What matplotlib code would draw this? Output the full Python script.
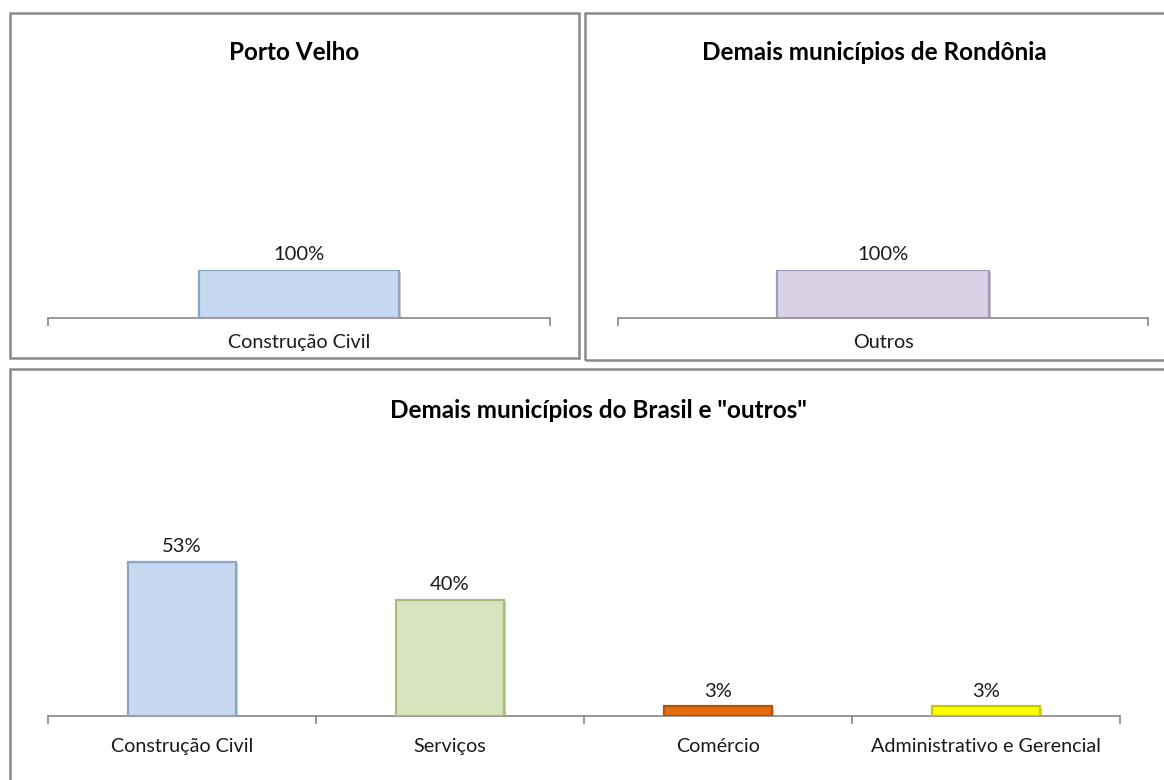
import matplotlib
matplotlib.use("Agg")
import matplotlib.pyplot as plt
import matplotlib.patheffects as pe
from matplotlib.patches import Rectangle

plt.rcParams['font.family'] = ['Lato', 'DejaVu Sans']

# ---- data ----
pv_categories = ["Construção Civil"]
pv_values = [100.0]
ro_categories = ["Outros"]
ro_values = [100.0]
br_categories = ["Construção Civil", "Serviços", "Comércio", "Administrativo e Gerencial"]
br_values = [53.3, 40.0, 3.3, 3.3]

titles = ["Porto Velho", "Demais municípios de Rondônia", 'Demais municípios do Brasil e "outros"']

W, H = 1164, 780
fig = plt.figure(figsize=(W / 100, H / 100), dpi=100)
fig.patch.set_facecolor("white")


def fx(x):
    return x / W


def fy(y):
    return 1 - y / H


# panel frames (pixel coords: left, top, right, bottom)
frames = [(10, 13, 579, 358), (585, 13, 1175, 360), (10, 369, 1175, 790)]
for l, t, r, b in frames:
    fig.patches.append(Rectangle((fx(l), fy(b)), fx(r - l), (b - t) / H,
                                 transform=fig.transFigure, fill=False,
                                 edgecolor="#8a8a8a", linewidth=1.8, zorder=0))

shadow = [pe.SimplePatchShadow(offset=(1.5, -1.5), alpha=0.3, shadow_rgbFace="#555555"), pe.Normal()]


def make_axes(left, right, base, px_per_unit, cats, vals, faces, edges, pad, title, tx, ty):
    height_px = 100 * px_per_unit
    ax = fig.add_axes([fx(left), fy(base), fx(right - left), height_px / H])
    n = len(cats)
    x = list(range(n))
    bars = ax.bar(x, vals, width=0.4, color=faces, edgecolor=edges, linewidth=1.6, zorder=3)
    for b in bars:
        b.set_path_effects(shadow)
    for xi, v in zip(x, vals):
        ax.annotate(f"{v:.0f}%", (xi, v), xytext=(0, 5), textcoords="offset points",
                    ha="center", va="bottom", fontsize=14.5, color="#1a1a1a", annotation_clip=False)
    ax.set_xlim(-0.5, n - 0.5)
    ax.set_ylim(0, 100)
    for s in ["top", "left", "right"]:
        ax.spines[s].set_visible(False)
    ax.spines["bottom"].set_color("#868686")
    ax.spines["bottom"].set_linewidth(1.2)
    ax.set_yticks([])
    ax.set_xticks(x)
    ax.set_xticklabels(cats, fontsize=14.2, color="#1a1a1a")
    ax.tick_params(axis="x", which="major", length=0, pad=pad)
    ax.set_xticks([i - 0.5 for i in range(n + 1)], minor=True)
    ax.tick_params(axis="x", which="minor", length=6, width=1.2, color="#868686", direction="out")
    ax.patch.set_alpha(0)
    fig.text(fx(tx), fy(ty), title, ha="center", va="center", fontsize=17.5,
             fontweight="bold", color="black")
    return ax


make_axes(48, 550, 318, 0.48, pv_categories, pv_values, ["#C6D9F0"], ["#8AA6C6"], 11.5,
          titles[0], 294, 52)
make_axes(618, 1148, 318, 0.48, ro_categories, ro_values, ["#D9D2E7"], ["#A497BA"], 11.5,
          titles[1], 874, 52)
make_axes(48, 1120, 716, 2.89, br_categories, br_values,
          ["#C6D9F0", "#D7E4BD", "#E46C0A", "#FFFF00"],
          ["#8AA6C6", "#A6BE78", "#B0520A", "#C8C800"], 15.5,
          titles[2], 598, 410)

fig.savefig("out.png", dpi=100, facecolor="white")
